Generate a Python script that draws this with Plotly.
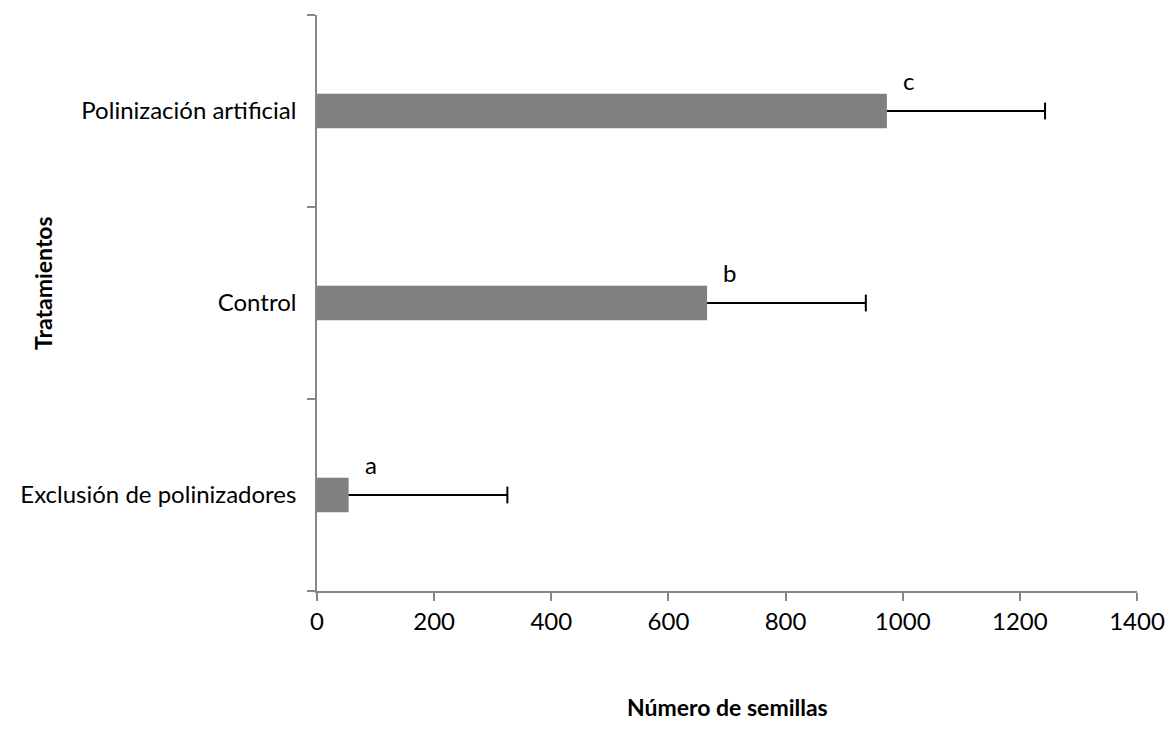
import plotly.graph_objects as go

categories = ["Exclusión de polinizadores", "Control", "Polinización artificial"]
values = [54, 666, 973]
errors = [271, 271, 270]
letters = ["a", "b", "c"]
x_ticks = [0, 200, 400, 600, 800, 1000, 1200, 1400]

FONT = "Lato, 'Open Sans', sans-serif"
AXIS_COLOR = "#868686"

fig = go.Figure()
fig.add_trace(go.Bar(
    x=values, y=categories, orientation="h",
    marker=dict(color="#808080", line=dict(width=0)),
    width=0.18, showlegend=False, hoverinfo="skip",
))

# error bars (plus side only, cap only at the far end)
ex, ey = [], []
for c, v, e in zip(categories, values, errors):
    ex += [v, v + e, None]
    ey += [c, c, None]
fig.add_trace(go.Scatter(x=ex, y=ey, mode="lines", line=dict(color="black", width=1.8),
                         showlegend=False, hoverinfo="skip", cliponaxis=False))
fig.add_trace(go.Scatter(x=[v + e for v, e in zip(values, errors)], y=categories, mode="markers",
                         marker=dict(symbol="line-ns", size=12, line=dict(color="black", width=2)),
                         showlegend=False, hoverinfo="skip", cliponaxis=False))

for c, v, l in zip(categories, values, letters):
    fig.add_annotation(x=v, y=c, text=l, showarrow=False, xshift=22, yshift=31,
                       font=dict(size=24, color="black", family=FONT))

fig.add_annotation(xref="paper", yref="paper", x=0.5, y=-0.201, xanchor="center", yanchor="middle",
                   text="<b>Número de semillas</b>",
                   showarrow=False, font=dict(size=23, color="black", family=FONT))
fig.add_annotation(xref="paper", yref="paper", x=-0.334, y=0.535, xanchor="center", yanchor="middle",
                   text="<b>Tratamientos</b>",
                   textangle=-90, showarrow=False, font=dict(size=23, color="black", family=FONT))

fig.update_layout(
    width=1169, height=742,
    margin=dict(l=317, r=32, t=15, b=151),
    paper_bgcolor="white", plot_bgcolor="white",
    font=dict(family=FONT, size=24, color="black"),
)
fig.update_xaxes(
    range=[0, 1400], tickvals=x_ticks, ticktext=[str(t) for t in x_ticks],
    showgrid=False, zeroline=False, showline=True, linecolor=AXIS_COLOR, linewidth=1.5,
    ticks="outside", ticklen=8, tickcolor=AXIS_COLOR, tickwidth=1.5,
    tickfont=dict(size=24, color="black", family=FONT), ticklabelstandoff=0,
    automargin=False,
)
fig.update_yaxes(
    type="category", categoryorder="array", categoryarray=categories,
    range=[-0.5, 2.5], tickson="boundaries",
    showgrid=False, zeroline=False, showline=True, linecolor=AXIS_COLOR, linewidth=1.5,
    ticks="outside", ticklen=8, tickcolor=AXIS_COLOR, tickwidth=1.5,
    tickfont=dict(size=24, color="black", family=FONT), ticklabelstandoff=14,
    automargin=False,
)

fig.write_html(
    "out.html",
    config={"displayModeBar": False},
    post_script="document.body.style.margin='0';document.body.style.overflow='hidden';",
)
